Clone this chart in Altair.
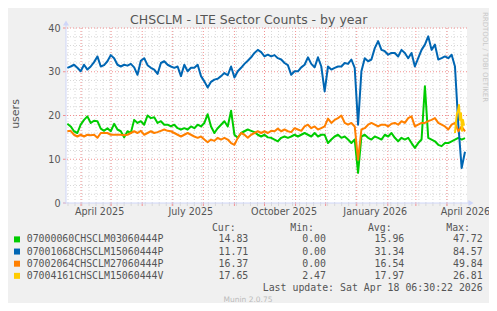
import altair as alt
import pandas as pd

TITLE = "CHSCLM - LTE Sector Counts - by year"
Y_TITLE = "users"
WATERMARK = "RRDTOOL / TOBI OETIKER"
FOOTER = "Munin 2.0.75"
LAST_UPDATE = "Last update: Sat Apr 18 06:30:22 2026"

names = ["07000060CHSCLM03060444P", "07001068CHSCLM15060444P",
         "07002064CHSCLM27060444P", "07004161CHSCLM15060444V"]
colors = ["#00CC00", "#0066B3", "#FF8000", "#FFCC00"]
cur_vals = [14.83, 11.71, 16.37, 17.65]
min_vals = [0.00, 0.00, 0.00, 2.47]
avg_vals = [15.96, 31.34, 16.54, 17.97]
max_vals = [47.72, 84.57, 49.84, 26.81]

green = [18.1, 17.5, 16.4, 16.0, 17.9, 19.0, 19.8, 18.3, 18.8, 18.7, 17.0, 16.5, 17.1, 16.4, 18.1,
         16.8, 16.4, 15.0, 16.4, 16.0, 19.0, 18.3, 18.7, 17.9, 20.0, 19.4, 19.6, 18.3, 18.7, 17.9,
         17.9, 17.5, 17.9, 17.1, 16.8, 17.1, 16.8, 17.5, 17.1, 17.9, 17.5, 18.3, 20.3, 17.5, 16.0,
         17.1, 17.9, 18.7, 17.5, 21.1, 15.6, 14.9, 16.0, 16.4, 16.8, 16.5, 16.2, 15.6, 15.2, 15.6,
         15.0, 14.9, 14.5, 14.1, 14.9, 15.2, 14.9, 15.2, 15.6, 15.2, 15.6, 16.0, 15.6, 15.2, 16.0,
         15.2, 15.6, 15.6, 13.7, 14.5, 15.2, 15.6, 14.9, 15.2, 14.5, 13.7, 14.5, 6.9, 15.2, 15.6,
         14.9, 14.5, 15.2, 14.9, 14.5, 15.6, 15.2, 16.0, 14.9, 14.1, 14.9, 14.5, 14.9, 13.7, 12.6,
         13.7, 14.5, 26.7, 14.9, 14.5, 14.1, 13.3, 13.0, 13.7, 13.7, 14.1, 14.5, 14.9, 14.5, 14.83]
blue = [30.9, 31.2, 31.6, 30.9, 30.1, 31.6, 30.5, 31.2, 32.2, 33.5, 31.2, 31.5, 32.4, 33.8, 33.1,
        31.6, 31.2, 31.6, 31.4, 31.8, 31.0, 29.3, 32.5, 33.1, 31.5, 30.9, 30.5, 29.5, 32.0, 32.4,
        31.6, 31.2, 30.9, 31.2, 29.0, 31.6, 30.1, 30.9, 30.9, 31.6, 29.0, 27.8, 26.4, 27.7, 28.2,
        28.4, 29.0, 29.7, 29.2, 31.2, 28.7, 30.1, 30.9, 31.8, 32.5, 33.3, 34.3, 35.0, 34.5, 33.5,
        33.9, 33.5, 33.8, 33.1, 32.8, 32.0, 31.5, 29.3, 30.1, 30.1, 31.0, 31.6, 33.3, 31.8, 31.0,
        33.3, 31.2, 25.5, 31.2, 30.5, 30.9, 31.2, 31.2, 32.0, 31.8, 32.8, 30.9, 17.9, 30.1, 33.1,
        32.4, 32.8, 35.4, 37.0, 35.0, 34.7, 33.9, 34.3, 34.3, 33.5, 35.0, 34.3, 33.1, 34.3, 31.2,
        33.1, 35.0, 36.2, 38.1, 35.0, 36.2, 32.8, 33.1, 33.5, 33.1, 33.9, 31.2, 17.9, 8.0, 11.71]
orange = [16.4, 16.5, 15.6, 15.2, 15.6, 15.2, 15.6, 15.5, 15.6, 14.9, 16.0, 16.0, 16.0, 15.6, 15.6,
          15.6, 15.6, 15.5, 15.6, 16.0, 16.4, 16.0, 16.5, 15.6, 16.0, 16.4, 16.0, 16.2, 16.5, 16.8,
          16.5, 16.4, 16.0, 15.6, 15.2, 15.6, 16.0, 15.6, 15.2, 14.9, 15.2, 14.5, 13.9, 14.5, 14.2,
          14.9, 14.5, 14.9, 14.5, 13.7, 13.3, 14.9, 16.0, 15.6, 14.9, 15.6, 16.0, 16.4, 16.0, 16.4,
          16.0, 16.5, 16.4, 17.0, 16.4, 16.8, 16.4, 16.2, 17.1, 16.8, 16.5, 17.5, 17.9, 17.1, 17.5,
          16.8, 17.1, 17.5, 19.3, 18.3, 19.0, 19.4, 20.0, 18.3, 17.9, 18.3, 17.5, 9.9, 16.8, 17.1,
          17.9, 18.3, 17.9, 17.5, 17.9, 17.9, 17.5, 18.1, 18.3, 17.9, 18.7, 18.3, 19.4, 19.8, 17.5,
          17.9, 18.3, 18.3, 18.7, 19.0, 19.4, 18.3, 17.9, 17.5, 16.8, 17.9, 18.3, 16.4, 17.5, 16.37]
yellow = [16.0, 18.5, 20.5, 21.0, 22.4, 19.0, 20.5, 16.5, 19.0, 17.65]

sample_dates = pd.date_range("2025-03-18 08:00", periods=len(green), freq="80h")
yellow_dates = pd.date_range("2026-04-09", periods=len(yellow), freq="D")

y_ticks = [0, 10, 20, 30, 40]
x_label_dates = ["2025-04-19", "2025-07-19", "2025-10-20", "2026-01-19", "2026-04-19"]
x_start, x_end = "2025-03-17", "2026-04-21"
month_lines = pd.date_range("2025-04-01", "2026-04-01", freq="MS")
week_lines = pd.date_range("2025-03-19", "2026-04-20", freq="W-WED")
minor_y = [v for v in range(2, 40, 2) if v % 10]
major_y = [10, 20, 30, 40]

W, H = 401, 175
FONT = "DejaVu Sans"
MONO = "DejaVu Sans Mono"
TXT = "#555555"
AXIS_C = "#CFD6F8"
MGRID = "#F29090"
GRID = "#D8D8D8"


def dt(s):
    t = pd.Timestamp(s)
    return alt.DateTime(year=t.year, month=t.month, date=t.day)


xscale = alt.Scale(domain=[dt(x_start), dt(x_end)])
yscale = alt.Scale(domain=[0, 40], nice=False, zero=True)
one = pd.DataFrame({"k": [0]})

layers = []

# grid
layers.append(alt.Chart(pd.DataFrame({"v": minor_y})).mark_rule(
    color=GRID, strokeDash=[1, 2], strokeWidth=1).encode(y=alt.Y("v:Q", scale=yscale)))
layers.append(alt.Chart(pd.DataFrame({"d": week_lines})).mark_rule(
    color=GRID, strokeDash=[1, 2], strokeWidth=1).encode(x=alt.X("d:T", scale=xscale)))
layers.append(alt.Chart(pd.DataFrame({"d": week_lines})).mark_rule(
    color=GRID, strokeWidth=1).encode(x=alt.X("d:T", scale=xscale),
                                      y=alt.value(H), y2=alt.value(H + 3)))
layers.append(alt.Chart(pd.DataFrame({"v": major_y})).mark_rule(
    color=MGRID, strokeDash=[1, 2], strokeWidth=1).encode(y=alt.Y("v:Q", scale=yscale)))
layers.append(alt.Chart(pd.DataFrame({"d": month_lines})).mark_rule(
    color=MGRID, strokeDash=[1, 2], strokeWidth=1).encode(x=alt.X("d:T", scale=xscale)))
layers.append(alt.Chart(pd.DataFrame({"d": month_lines})).mark_rule(
    color=MGRID, strokeWidth=1).encode(x=alt.X("d:T", scale=xscale),
                                       y=alt.value(H), y2=alt.value(H + 3)))
layers.append(alt.Chart(pd.DataFrame({"v": y_ticks})).mark_rule(
    color=MGRID, strokeWidth=1).encode(y=alt.Y("v:Q", scale=yscale),
                                       x=alt.value(-3), x2=alt.value(0)))

# axes (labels only)
axis_layer = alt.Chart(pd.DataFrame({"d": sample_dates[:1], "v": [0]})).mark_point(opacity=0).encode(
    x=alt.X("d:T", scale=xscale, title=None,
            axis=alt.Axis(values=[dt(s) for s in x_label_dates], format="%B %Y",
                          domain=False, ticks=False, tickSize=0, grid=False,
                          labelFont=FONT, labelFontSize=9.6, labelColor=TXT,
                          labelPadding=3, labelOverlap=False, labelBound=False,
                          labelFlush=False)),
    y=alt.Y("v:Q", scale=yscale, title=None,
            axis=alt.Axis(values=y_ticks, format="d", domain=False, ticks=False,
                          tickSize=0, grid=False, labelFont=FONT, labelFontSize=9.6,
                          labelColor=TXT, labelPadding=6)),
)
layers.append(axis_layer)

# series lines
series = [(sample_dates, green, colors[0]), (sample_dates, blue, colors[1]),
          (sample_dates, orange, colors[2]), (yellow_dates, yellow, colors[3])]
for dates, vals, col in series:
    df = pd.DataFrame({"d": dates, "v": vals})
    layers.append(alt.Chart(df).mark_line(color=col, strokeWidth=2, strokeJoin="round").encode(
        x=alt.X("d:T", scale=xscale), y=alt.Y("v:Q", scale=yscale)))

# axis lines + arrows
layers.append(alt.Chart(one).mark_rule(color=AXIS_C, strokeWidth=1).encode(
    x=alt.value(0), y=alt.value(-3), y2=alt.value(H)))
layers.append(alt.Chart(one).mark_rule(color=AXIS_C, strokeWidth=1).encode(
    y=alt.value(H), x=alt.value(-3), x2=alt.value(W + 2)))
layers.append(alt.Chart(one).mark_point(shape="triangle-up", filled=True, size=36,
                                        color=AXIS_C, opacity=1).encode(
    x=alt.value(0), y=alt.value(-5)))
layers.append(alt.Chart(one).mark_point(shape="triangle-right", filled=True, size=36,
                                        color=AXIS_C, opacity=1).encode(
    x=alt.value(W + 4), y=alt.value(H)))


def txt(s, x, y, size=9.9, align="left", font=MONO, color=TXT, angle=0, baseline="middle"):
    return alt.Chart(one).mark_text(text=s, align=align, baseline=baseline, font=font,
                                    fontSize=size, color=color, angle=angle).encode(
        x=alt.value(x), y=alt.value(y))


layers.append(txt(TITLE, 182.7, -4, size=12.5, align="center", font=FONT, baseline="alphabetic"))
layers.append(txt(Y_TITLE, -50, 86, size=11, align="center", font=FONT, angle=270))
layers.append(txt(WATERMARK, 418.5, 29, size=7, align="center", font=FONT, color="#C8C8C8", angle=90))

hdr_y = 199.5
for label, xr in [("Cur:", 169.7), ("Min:", 248), ("Avg:", 325.7), ("Max:", 404)]:
    layers.append(txt(label, xr, hdr_y, align="right"))

for i, name in enumerate(names):
    ry = 211.4 + 12.15 * i
    layers.append(alt.Chart(one).mark_square(size=36, color=colors[i], opacity=1).encode(
        x=alt.value(-49), y=alt.value(ry)))
    layers.append(txt(name, -39.3, ry))
    for vals, xr in [(cur_vals, 182.3), (min_vals, 260), (avg_vals, 338.3), (max_vals, 416.7)]:
        layers.append(txt(f"{vals[i]:.2f}", xr, ry, align="right"))

layers.append(txt(LAST_UPDATE, 416.7, 259.8, align="right"))
layers.append(txt(FOOTER, 182, 271.7, size=7.5, align="center", font=FONT, color="#BBBBBB"))

chart = alt.layer(*layers).properties(
    width=W, height=H,
    background="#F0F0F0",
    padding={"left": 58, "top": 20, "right": 22, "bottom": 100},
    autosize=alt.AutoSizeParams(type="none"),
).configure_view(fill="#FFFFFF", strokeWidth=0)

chart.save("out.html", embed_options={"renderer": "svg", "actions": False})
